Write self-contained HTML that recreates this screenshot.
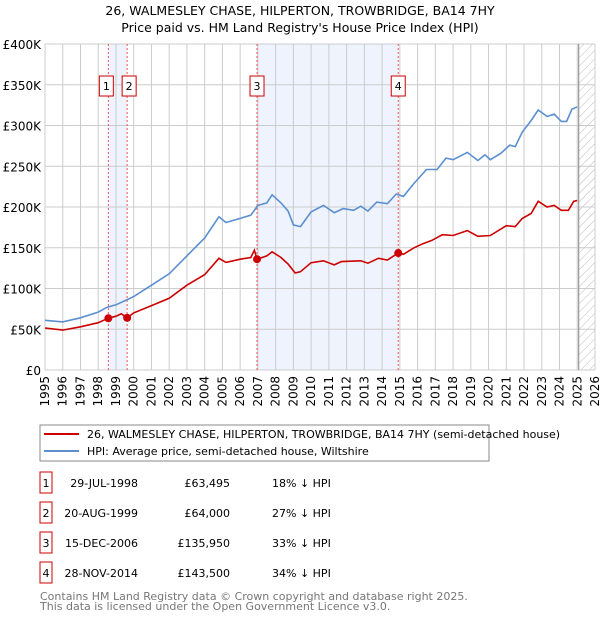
<!DOCTYPE html>
<html><head><meta charset="utf-8"><style>
body{margin:0;background:#fff;font-family:"Liberation Sans","DejaVu Sans",sans-serif}
svg text{font-family:"DejaVu Sans","Liberation Sans",sans-serif}
</style></head><body>
<svg id="c" width="600" height="620" xmlns="http://www.w3.org/2000/svg">
<defs><pattern id="hatch" width="6" height="6" patternUnits="userSpaceOnUse" patternTransform="rotate(45)"><line x1="0" y1="0" x2="0" y2="6" stroke="#bbb" stroke-width="1"/></pattern></defs>
<text x="300" y="15" text-anchor="middle" font-size="12.5" fill="#000">26, WALMESLEY CHASE, HILPERTON, TROWBRIDGE, BA14 7HY</text>
<text x="300" y="32" text-anchor="middle" font-size="12.5" fill="#000">Price paid vs. HM Land Registry's House Price Index (HPI)</text>
<g id="plot"></g>
<g>
<rect x="40" y="425" width="449" height="36" fill="#fff" stroke="#888"/>
<line x1="44" y1="434" x2="79" y2="434" stroke="#cc0000" stroke-width="2"/>
<text x="87" y="438" font-size="11">26, WALMESLEY CHASE, HILPERTON, TROWBRIDGE, BA14 7HY (semi-detached house)</text>
<line x1="44" y1="451" x2="79" y2="451" stroke="#5b8fd0" stroke-width="2"/>
<text x="87" y="455" font-size="11">HPI: Average price, semi-detached house, Wiltshire</text>
</g>
<g id="table" font-size="11"></g>
<text x="40" y="600" font-size="11" fill="#777">Contains HM Land Registry data © Crown copyright and database right 2025.</text>
<text x="40" y="610" font-size="11" fill="#777">This data is licensed under the Open Government Licence v3.0.</text>
</svg>
<script>
const hpiYears=[1995,1996,1997,1998,1998.5,1999,2000,2001,2002,2003,2004,2004.8,2005.2,2006,2006.6,2007,2007.5,2007.8,2008.3,2008.7,2009.0,2009.4,2010.0,2010.7,2011.3,2011.8,2012.4,2012.8,2013.2,2013.7,2014.3,2014.8,2015.2,2015.8,2016.5,2017.1,2017.6,2018.0,2018.8,2019.4,2019.8,2020.1,2020.7,2021.2,2021.5,2021.9,2022.4,2022.8,2023.3,2023.7,2024.1,2024.4,2024.7,2025.0];
const hpiValues=[61,59,64,71,77,80,90,104,118,140,162,188,181,186,190,202,205,215,205,195,178,176,194,202,193,198,196,201,195,206,204,216,213,229,246,246,260,258,267,257,264,258,266,276,274,292,306,319,311,314,305,305,320,323];
const redYears=[1995,1996,1997,1998,1998.57,1999,1999.3,1999.63,2000,2001,2002,2003,2004,2004.8,2005.2,2006,2006.6,2006.8,2006.95,2007.5,2007.8,2008.3,2008.7,2009.1,2009.4,2010.0,2010.7,2011.3,2011.7,2012.8,2013.2,2013.8,2014.3,2014.91,2015.2,2015.8,2016.3,2016.8,2017.4,2018.0,2018.8,2019.4,2020.1,2021.0,2021.5,2021.9,2022.4,2022.8,2023.3,2023.7,2024.1,2024.5,2024.8,2025.0];
const redValues=[51.5,49,53,58,63.5,66,69,64,70,79,88,104,117,137,132,136,138,147,136,140,145,138,130,119,120.6,131.6,134,129,133,134,131,137,135,143.5,142,150,155,159,166,165,171,164,165,177,176,186,192,207,200,202,196,196,207,208];
const saleYears=[1998.57,1999.63,2006.95,2014.91];
const salePrices=[63495,64000,135950,143500];
const saleDates=["29-JUL-1998","20-AUG-1999","15-DEC-2006","28-NOV-2014"];
const salePriceLabels=["£63,495","£64,000","£135,950","£143,500"];
const saleHpi=["18% ↓ HPI","27% ↓ HPI","33% ↓ HPI","34% ↓ HPI"];
const yTicks=[0,50000,100000,150000,200000,250000,300000,350000,400000];
const yTickLabels=["£0","£50K","£100K","£150K","£200K","£250K","£300K","£350K","£400K"];
const xTicks=[];for(let y=1995;y<=2026;y++)xTicks.push(y);

const L=45,R=595,T=44,B=370,ns="http://www.w3.org/2000/svg";
const xs=y=>L+(y-1995)/31*(R-L);
const ys=v=>B-v/400000*(B-T);
const plot=document.getElementById('plot');
function mk(tag,attrs,parent){const e=document.createElementNS(ns,tag);for(const k in attrs)e.setAttribute(k,attrs[k]);(parent||plot).appendChild(e);return e;}
// shaded regions
let s=mk('rect',{x:xs(saleYears[0]),y:T,width:xs(saleYears[1])-xs(saleYears[0]),height:B-T,fill:'#eef3fd'});


s=mk('rect',{x:xs(saleYears[2]),y:T,width:xs(saleYears[3])-xs(saleYears[2]),height:B-T,fill:'#eef3fd'});


// hatch
const hx=xs(2025.08);
s=mk('rect',{x:hx,y:T,width:R-hx,height:B-T,fill:'url(#hatch)'});


// grid
xTicks.forEach(y=>{const g=mk('line',{x1:xs(y),x2:xs(y),y1:T,y2:B,stroke:'#ccc','stroke-width':1});


const t=mk('text',{x:0,y:0,'font-size':12,'text-anchor':'end',transform:`translate(${xs(y)+4},${B+6}) rotate(-90)`});t.textContent=y;

});
yTicks.forEach((v,i)=>{const g=mk('line',{x1:L,x2:R,y1:ys(v),y2:ys(v),stroke:'#ccc','stroke-width':1});


const t=mk('text',{x:L-4,y:ys(v)+5,'font-size':12,'text-anchor':'end'});t.textContent=yTickLabels[i];

});
s=mk('line',{x1:hx,x2:hx,y1:T,y2:B,stroke:'#999','stroke-width':1.2});


// sale lines & labels
saleYears.forEach((y,i)=>{const l=mk('line',{x1:xs(y),x2:xs(y),y1:T,y2:B,stroke:'#e55','stroke-width':1,'stroke-dasharray':'2,2'});


const off=i==0?-2:(i==1?2:0);
const b=mk('rect',{x:xs(y)-7+off,y:76,width:14,height:20,fill:'#fff',stroke:'#c00'});


const t=mk('text',{x:xs(y)+off,y:90,'font-size':11,'text-anchor':'middle'});t.textContent=i+1;

});
// lines
function path(xa,va){return xa.map((y,i)=>(i?'L':'M')+xs(y).toFixed(1)+','+ys(va[i]*1000).toFixed(1)).join('');}
s=mk('path',{d:path(hpiYears,hpiValues),fill:'none',stroke:'#5b8fd0','stroke-width':1.6});


s=mk('path',{d:path(redYears,redValues),fill:'none',stroke:'#cc0000','stroke-width':1.6});


saleYears.forEach((y,i)=>{const c=mk('circle',{cx:xs(y),cy:ys(salePrices[i]),r:4,fill:'#cc0000'});

});
// table
const tb=document.getElementById('table');
saleDates.forEach((d,i)=>{const cy=483+i*30;
const b=mk('rect',{x:40,y:cy-11,width:12,height:21,fill:'#fff',stroke:'#c00'},tb);


let t=mk('text',{x:46,y:cy+4,'text-anchor':'middle'},tb);t.textContent=i+1;


t=mk('text',{x:138,y:cy+4,'text-anchor':'end'},tb);t.textContent=d;


t=mk('text',{x:230,y:cy+4,'text-anchor':'end'},tb);t.textContent=salePriceLabels[i];


t=mk('text',{x:272,y:cy+4},tb);t.textContent=saleHpi[i];

});
</script>
</body></html>
